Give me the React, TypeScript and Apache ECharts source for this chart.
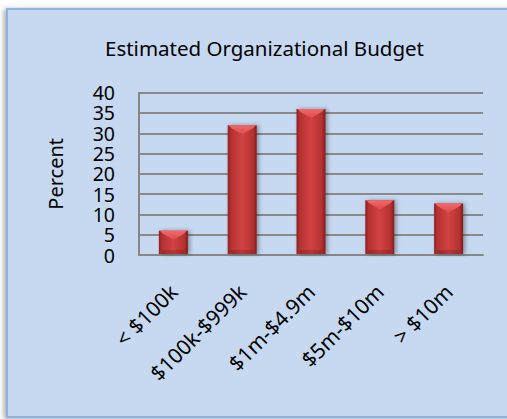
import React, { useEffect, useRef } from "react";
import * as echarts from "echarts";

const categories = ["< $100k", "$100k-$999k", "$1m-$4.9m", "$5m-$10m", "> $10m"];
const values = [6, 32, 36, 13.5, 12.7];
const yMin = 0;
const yMax = 40;
const yInterval = 5;
const titleText = "Estimated Organizational Budget";
const yAxisName = "Percent";

const FONT = "'Noto Sans', 'Open Sans', sans-serif";

export default function App() {
  const ref = useRef<HTMLDivElement>(null);
  useEffect(() => {
    if (!ref.current) return;
    const chart = echarts.init(ref.current, undefined, { renderer: "svg" });
    const barW = 29;
    chart.setOption({
      animation: false,
      backgroundColor: "#ffffff",
      graphic: [
        {
          type: "rect",
          z: -10,
          silent: true,
          shape: { x: 7, y: 9, width: 512, height: 408 },
          style: {
            fill: "#c6d9f1",
            stroke: "#8db3e2",
            lineWidth: 2,
            shadowBlur: 5,
            shadowColor: "rgba(0,0,0,0.35)",
            shadowOffsetX: -2,
            shadowOffsetY: 1,
          },
        },
      ],
      title: {
        text: titleText,
        left: 259.5,
        top: 32,
        textAlign: "center",
        textStyle: { fontFamily: FONT, fontSize: 20.5, fontWeight: "normal", color: "#000" },
      },
      grid: { left: 139, right: 24, top: 92.7, bottom: 164 },
      xAxis: {
        type: "category",
        data: categories,
        axisLine: { show: true, lineStyle: { color: "#878787", width: 2 } },
        axisTick: { show: false },
        axisLabel: {
          rotate: 45,
          margin: 33,
          interval: 0,
          fontFamily: FONT,
          fontSize: 21,
          color: "#000",
        },
      },
      yAxis: {
        type: "value",
        min: yMin,
        max: yMax,
        interval: yInterval,
        name: yAxisName,
        nameLocation: "middle",
        nameRotate: 90,
        nameGap: 74,
        nameTextStyle: { fontFamily: FONT, fontSize: 20, color: "#000" },
        axisLine: { show: true, lineStyle: { color: "#878787", width: 2 } },
        axisTick: { show: false },
        splitLine: { show: true, lineStyle: { color: "#8a8a8a", width: 2 } },
        axisLabel: { margin: 24, fontFamily: FONT, fontSize: 19.5, color: "#000", lineHeight: 18 },
      },
      series: [
        {
          type: "custom",
          data: values.map((v, i) => [i, v]),
          encode: { x: 0, y: 1 },
          renderItem: (params: any, api: any) => {
            const idx = api.value(0);
            const v = api.value(1);
            const top = api.coord([idx, v]);
            const bot = api.coord([idx, 0]);
            const x0 = top[0] - barW / 2;
            const x1 = top[0] + barW / 2;
            const yt = top[1];
            const yb = bot[1] - 1;
            const h = yb - yt;
            const bev = Math.min(9, h / 2);
            return {
              type: "group",
              children: [
                {
                  type: "rect",
                  shape: { x: x0, y: yt, width: barW, height: h },
                  style: {
                    fill: new echarts.graphic.LinearGradient(0, 0, 1, 0, [
                      { offset: 0, color: "#8e2222" },
                      { offset: 0.12, color: "#b53232" },
                      { offset: 0.5, color: "#d24242" },
                      { offset: 0.88, color: "#b33131" },
                      { offset: 1, color: "#7e1b1b" },
                    ]),
                    shadowBlur: 4,
                    shadowColor: "rgba(0,0,0,0.35)",
                    shadowOffsetX: 2,
                    shadowOffsetY: 0,
                  },
                },
                {
                  type: "polygon",
                  shape: {
                    points: [
                      [x0 + 1, yt],
                      [x1 - 1, yt],
                      [x1 - 4, yt + 3],
                      [top[0], yt + bev],
                      [x0 + 4, yt + 3],
                    ],
                  },
                  style: {
                    fill: new echarts.graphic.LinearGradient(0, 0, 0, 1, [
                      { offset: 0, color: "#f26a6a" },
                      { offset: 1, color: "#dc4c4c" },
                    ]),
                  },
                },
                {
                  type: "rect",
                  shape: { x: x0 + 3, y: yb - 4, width: barW - 6, height: 4 },
                  style: { fill: "rgba(90,20,20,0.25)" },
                },
              ],
            };
          },
        },
      ],
    });
    return () => chart.dispose();
  }, []);
  return (
    <div
      ref={ref}
      style={{ position: "fixed", left: 0, top: 0, width: 507, height: 419 }}
    />
  );
}
